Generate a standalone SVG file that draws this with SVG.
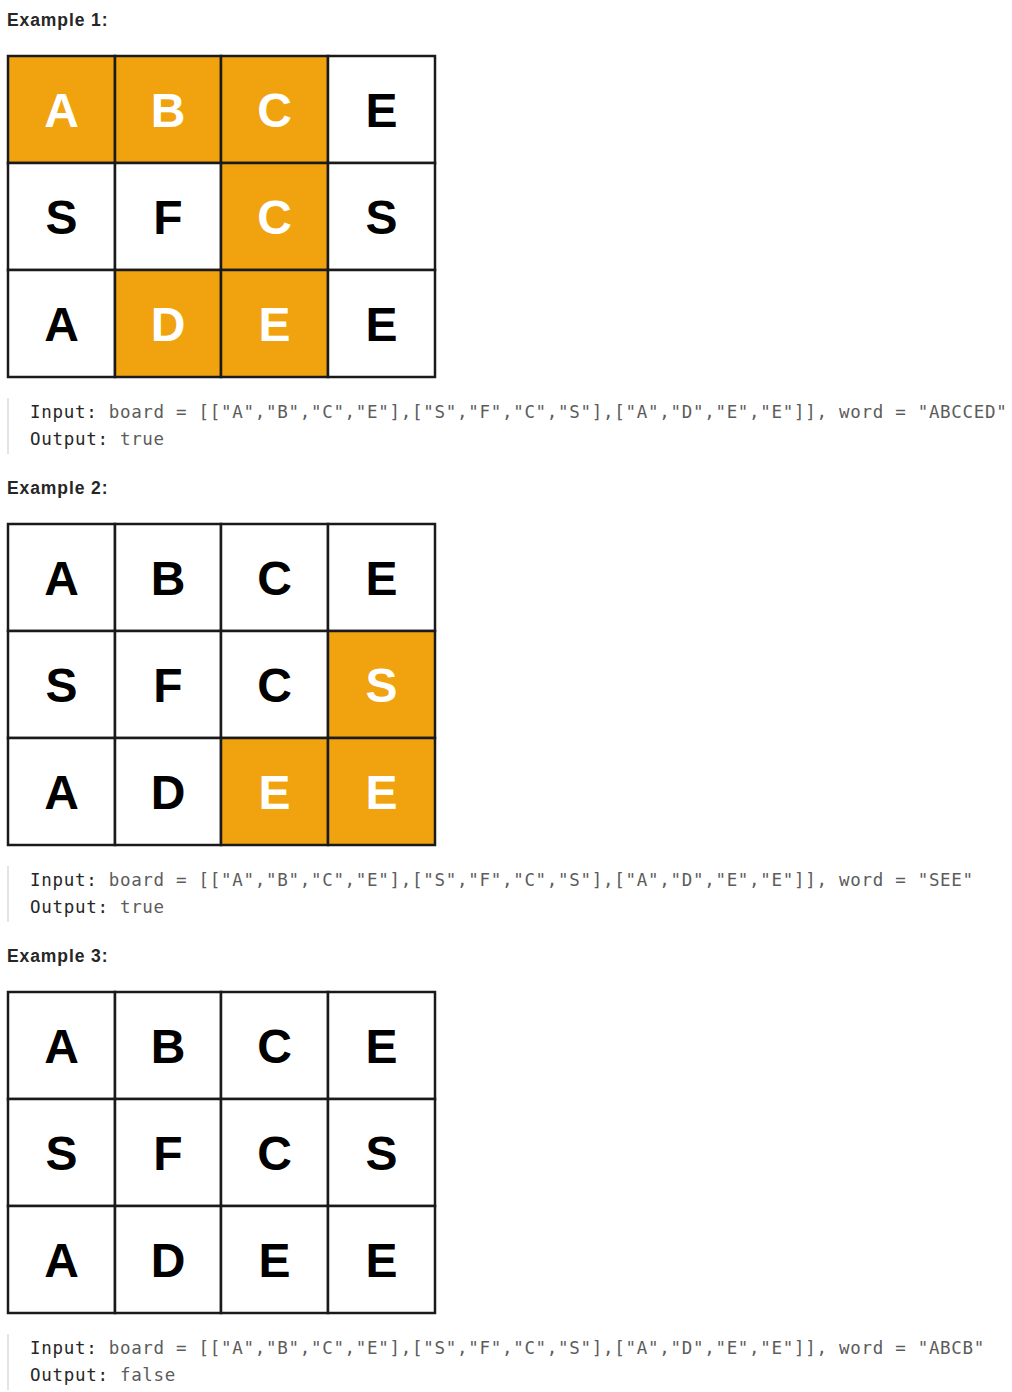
<svg xmlns="http://www.w3.org/2000/svg" width="1012" height="1392" viewBox="0 0 1012 1392">
<style>
.h{font-family:"Liberation Sans",Arial,sans-serif;font-weight:bold;font-size:17.5px;fill:#262626;letter-spacing:0.9px}
.c{stroke:#1a1a1a;stroke-width:2.5}
.w{fill:#ffffff}
.o{fill:#f0a30e}
.L{font-family:"Liberation Sans",Arial,sans-serif;font-weight:bold;font-size:48px;text-anchor:middle}
.lk{fill:#000000}
.lw{fill:#ffffff}
.m{font-family:"DejaVu Sans Mono","Liberation Mono",monospace;font-size:17.5px;letter-spacing:0.7px;fill:#5c5c5c}
.k{fill:#262626}
.bar{fill:#e3e3e3}
</style>
<rect width="1012" height="1392" fill="#ffffff"/>

<g id="example1">
<text class="h" x="7" y="26">Example 1:</text>
<g id="grid1">
<rect class="c o" x="8" y="56" width="107" height="107"/>
<rect class="c o" x="115" y="56" width="106" height="107"/>
<rect class="c o" x="221" y="56" width="107" height="107"/>
<rect class="c w" x="328" y="56" width="107" height="107"/>
<rect class="c w" x="8" y="163" width="107" height="107"/>
<rect class="c w" x="115" y="163" width="106" height="107"/>
<rect class="c o" x="221" y="163" width="107" height="107"/>
<rect class="c w" x="328" y="163" width="107" height="107"/>
<rect class="c w" x="8" y="270" width="107" height="107"/>
<rect class="c o" x="115" y="270" width="106" height="107"/>
<rect class="c o" x="221" y="270" width="107" height="107"/>
<rect class="c w" x="328" y="270" width="107" height="107"/>
<text class="L lw" x="61.5" y="127">A</text>
<text class="L lw" x="168" y="127">B</text>
<text class="L lw" x="274.5" y="127">C</text>
<text class="L lk" x="381.5" y="127">E</text>
<text class="L lk" x="61.5" y="234">S</text>
<text class="L lk" x="168" y="234">F</text>
<text class="L lw" x="274.5" y="234">C</text>
<text class="L lk" x="381.5" y="234">S</text>
<text class="L lk" x="61.5" y="341">A</text>
<text class="L lw" x="168" y="341">D</text>
<text class="L lw" x="274.5" y="341">E</text>
<text class="L lk" x="381.5" y="341">E</text>
</g>
<rect class="bar" x="7" y="398" width="2" height="56"/>
<text class="m" x="30" y="418"><tspan class="k">Input:</tspan> board = [["A","B","C","E"],["S","F","C","S"],["A","D","E","E"]], word = "ABCCED"</text>
<text class="m" x="30" y="445"><tspan class="k">Output:</tspan> true</text>
</g>

<g id="example2">
<text class="h" x="7" y="494">Example 2:</text>
<g id="grid2">
<rect class="c w" x="8" y="524" width="107" height="107"/>
<rect class="c w" x="115" y="524" width="106" height="107"/>
<rect class="c w" x="221" y="524" width="107" height="107"/>
<rect class="c w" x="328" y="524" width="107" height="107"/>
<rect class="c w" x="8" y="631" width="107" height="107"/>
<rect class="c w" x="115" y="631" width="106" height="107"/>
<rect class="c w" x="221" y="631" width="107" height="107"/>
<rect class="c o" x="328" y="631" width="107" height="107"/>
<rect class="c w" x="8" y="738" width="107" height="107"/>
<rect class="c w" x="115" y="738" width="106" height="107"/>
<rect class="c o" x="221" y="738" width="107" height="107"/>
<rect class="c o" x="328" y="738" width="107" height="107"/>
<text class="L lk" x="61.5" y="595">A</text>
<text class="L lk" x="168" y="595">B</text>
<text class="L lk" x="274.5" y="595">C</text>
<text class="L lk" x="381.5" y="595">E</text>
<text class="L lk" x="61.5" y="702">S</text>
<text class="L lk" x="168" y="702">F</text>
<text class="L lk" x="274.5" y="702">C</text>
<text class="L lw" x="381.5" y="702">S</text>
<text class="L lk" x="61.5" y="809">A</text>
<text class="L lk" x="168" y="809">D</text>
<text class="L lw" x="274.5" y="809">E</text>
<text class="L lw" x="381.5" y="809">E</text>
</g>
<rect class="bar" x="7" y="866" width="2" height="56"/>
<text class="m" x="30" y="886"><tspan class="k">Input:</tspan> board = [["A","B","C","E"],["S","F","C","S"],["A","D","E","E"]], word = "SEE"</text>
<text class="m" x="30" y="913"><tspan class="k">Output:</tspan> true</text>
</g>

<g id="example3">
<text class="h" x="7" y="962">Example 3:</text>
<g id="grid3">
<rect class="c w" x="8" y="992" width="107" height="107"/>
<rect class="c w" x="115" y="992" width="106" height="107"/>
<rect class="c w" x="221" y="992" width="107" height="107"/>
<rect class="c w" x="328" y="992" width="107" height="107"/>
<rect class="c w" x="8" y="1099" width="107" height="107"/>
<rect class="c w" x="115" y="1099" width="106" height="107"/>
<rect class="c w" x="221" y="1099" width="107" height="107"/>
<rect class="c w" x="328" y="1099" width="107" height="107"/>
<rect class="c w" x="8" y="1206" width="107" height="107"/>
<rect class="c w" x="115" y="1206" width="106" height="107"/>
<rect class="c w" x="221" y="1206" width="107" height="107"/>
<rect class="c w" x="328" y="1206" width="107" height="107"/>
<text class="L lk" x="61.5" y="1063">A</text>
<text class="L lk" x="168" y="1063">B</text>
<text class="L lk" x="274.5" y="1063">C</text>
<text class="L lk" x="381.5" y="1063">E</text>
<text class="L lk" x="61.5" y="1170">S</text>
<text class="L lk" x="168" y="1170">F</text>
<text class="L lk" x="274.5" y="1170">C</text>
<text class="L lk" x="381.5" y="1170">S</text>
<text class="L lk" x="61.5" y="1277">A</text>
<text class="L lk" x="168" y="1277">D</text>
<text class="L lk" x="274.5" y="1277">E</text>
<text class="L lk" x="381.5" y="1277">E</text>
</g>
<rect class="bar" x="7" y="1334" width="2" height="56"/>
<text class="m" x="30" y="1354"><tspan class="k">Input:</tspan> board = [["A","B","C","E"],["S","F","C","S"],["A","D","E","E"]], word = "ABCB"</text>
<text class="m" x="30" y="1381"><tspan class="k">Output:</tspan> false</text>
</g>
<g id="connectors"/>
</svg>
